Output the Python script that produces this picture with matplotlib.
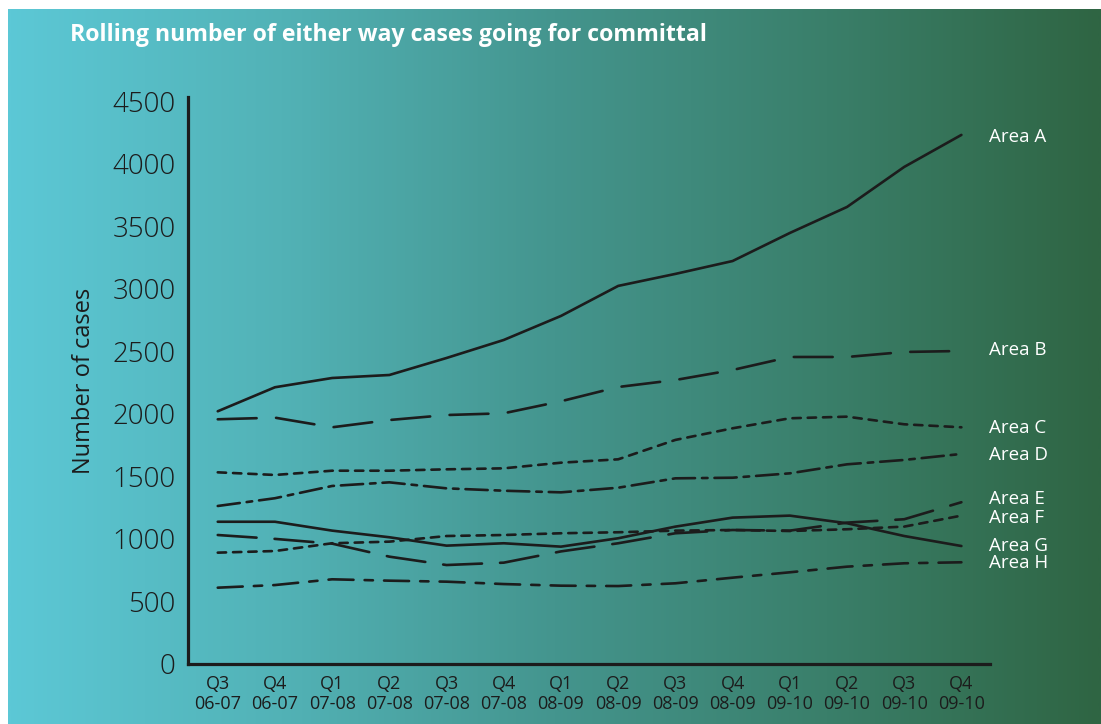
import numpy as np
import matplotlib.pyplot as plt
from matplotlib.colors import LinearSegmentedColormap

quarters = ["Q3\n06-07", "Q4\n06-07", "Q1\n07-08", "Q2\n07-08", "Q3\n07-08", "Q4\n07-08",
            "Q1\n08-09", "Q2\n08-09", "Q3\n08-09", "Q4\n08-09", "Q1\n09-10", "Q2\n09-10",
            "Q3\n09-10", "Q4\n09-10"]

area_a = [2020, 2212, 2286, 2310, 2446, 2590, 2782, 3022, 3118, 3221, 3445, 3653, 3973, 4229]
area_b = [1956, 1969, 1892, 1950, 1990, 2004, 2100, 2214, 2270, 2350, 2454, 2454, 2494, 2502]
area_c = [1532, 1511, 1545, 1545, 1556, 1564, 1609, 1636, 1791, 1884, 1964, 1977, 1916, 1892]
area_d = [1263, 1325, 1423, 1452, 1404, 1385, 1372, 1409, 1484, 1489, 1524, 1596, 1631, 1679]
area_e = [1031, 1000, 962, 858, 791, 810, 900, 965, 1045, 1071, 1066, 1130, 1157, 1293]
area_f = [890, 903, 965, 978, 1023, 1031, 1045, 1053, 1066, 1071, 1063, 1077, 1098, 1186]
area_g = [1137, 1137, 1066, 1013, 946, 965, 938, 1005, 1098, 1170, 1186, 1125, 1023, 943]
area_h = [610, 631, 677, 666, 658, 639, 626, 623, 645, 690, 733, 778, 805, 813]

series = [area_a, area_b, area_c, area_d, area_e, area_f, area_g, area_h]
names = ["Area A", "Area B", "Area C", "Area D", "Area E", "Area F", "Area G", "Area H"]

# dash patterns in points (scale_dashes off)
styles = [
    "-",
    (0, (28, 14)),
    (0, (6, 5)),
    (0, (16, 5, 4, 5)),
    (0, (28, 13)),
    (0, (6, 5)),
    "-",
    (0, (18, 8, 6, 8)),
]
label_nudge = [-15, 10, -5, -8, 25, -20, 0, -5]

plt.rcParams["lines.scale_dashes"] = False
plt.rcParams["font.family"] = ["Open Sans", "DejaVu Sans"]

W, H = 1101, 724
fig = plt.figure(figsize=(W / 100, H / 100), dpi=100)

# background gradient panel
bg = fig.add_axes([8 / W, 0, 1 - 8 / W, 1 - 9 / H])
bg_cmap = LinearSegmentedColormap.from_list(
    "bg", ["#5cc8d6", "#52b2b6", "#44958e", "#3a7f6a", "#2f6543"])
grad = np.linspace(0, 1, 512).reshape(1, -1)
bg.imshow(grad, aspect="auto", cmap=bg_cmap, extent=[0, 1, 0, 1])
bg.set_axis_off()

ax = fig.add_axes([188 / W, 60 / H, (990 - 188) / W, (664 - 97) / H])
ax.patch.set_alpha(0)
x = np.arange(len(quarters))
ink = "#1c1c1c"
for vals, ls in zip(series, styles):
    ax.plot(x, vals, color=ink, lw=1.9, ls=ls, solid_capstyle="round",
            dash_capstyle="round")

ax.set_xlim(-0.52, 13.5)
ax.set_ylim(0, 4532)
ax.set_yticks(range(0, 4501, 500))
ax.set_xticks(x)
ax.set_xticklabels(quarters, fontsize=13, color=ink, linespacing=1.1)
ax.tick_params(axis="y", length=0, pad=9, labelsize=20, labelcolor=ink)
ax.tick_params(axis="x", length=0, pad=8)
for lab in ax.get_yticklabels():
    lab.set_fontweight("light")

for side in ["top", "right"]:
    ax.spines[side].set_visible(False)
for side in ["left", "bottom"]:
    ax.spines[side].set_linewidth(2.3)
    ax.spines[side].set_color(ink)

ax.set_ylabel("Number of cases", fontsize=17, color=ink, labelpad=12)

for vals, name, dy in zip(series, names, label_nudge):
    ax.annotate(name, xy=(len(quarters) - 1, vals[-1] + dy), xytext=(20, 0),
                textcoords="offset points", color="white", fontsize=13.5,
                va="center", ha="left", annotation_clip=False)

fig.text(70 / W, 1 - 35 / H, "Rolling number of either way cases going for committal",
         color="white", fontsize=16.7, fontweight="bold", fontstretch="condensed",
         va="center", ha="left")

fig.savefig("out.png", dpi=100)
